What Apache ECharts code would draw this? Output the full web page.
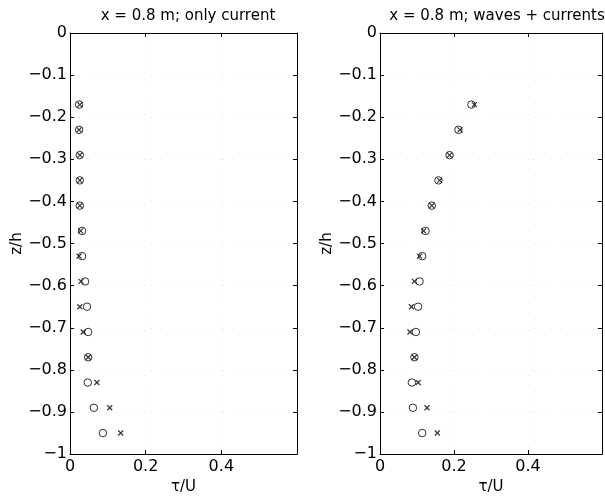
<!DOCTYPE html>
<html>
<head>
<meta charset="utf-8">
<script src="https://cdn.jsdelivr.net/npm/echarts@6/dist/echarts.min.js"></script>
<style>html,body{margin:0;padding:0;background:#fff}#c{width:605px;height:500px}</style>
</head>
<body>
<div id="c"></div>
<script>
var zLevels = [-0.17,-0.23,-0.29,-0.35,-0.41,-0.47,-0.53,-0.59,-0.65,-0.71,-0.77,-0.83,-0.89,-0.95];
var leftCircle = [0.024,0.024,0.026,0.026,0.026,0.032,0.032,0.040,0.045,0.048,0.048,0.047,0.063,0.087];
var leftCross  = [0.026,0.024,0.026,0.026,0.026,0.028,0.024,0.029,0.026,0.035,0.048,0.071,0.105,0.134];
var rightCircle = [0.247,0.212,0.188,0.158,0.140,0.123,0.114,0.107,0.103,0.097,0.093,0.086,0.089,0.114];
var rightCross  = [0.255,0.216,0.188,0.161,0.140,0.118,0.107,0.093,0.085,0.081,0.093,0.103,0.127,0.155];
var titles = ['x = 0.8 m; only current', 'x = 0.8 m; waves + currents'];
var xName = '\u03c4/U', yName = 'z/h';

var FONT = 'DejaVu Sans';
var FS = 16;
var TFS = 15;
function pairs(xs){ return xs.map(function(x,i){ return [x, zLevels[i]]; }); }
function yFmt(v){ if (Math.abs(v) < 1e-9) return '0'; if (Math.abs(v+1) < 1e-9) return '\u22121'; return '\u2212' + Math.abs(v).toFixed(1); }
function xFmt(v){ if (v > 0.55) return ''; if (v === 0) return '0'; return v.toFixed(1); }

var grids = [
  {left: 70, top: 33, width: 227, height: 422},
  {left: 380, top: 33, width: 228, height: 422}
];
var xAxes = [], yAxes = [], series = [];
grids.forEach(function(g, gi){
  var tickStyle = {show: true, inside: true, length: 4, lineStyle: {color: '#000'}};
  xAxes.push({gridIndex: gi, type: 'value', min: 0, max: 0.6, interval: 0.2, position: 'bottom',
    name: xName, nameLocation: 'middle', nameGap: 25,
    nameTextStyle: {fontFamily: FONT, fontSize: TFS, color: '#000'},
    axisLine: {show: true, onZero: false, lineStyle: {color: '#000'}}, axisTick: tickStyle,
    axisLabel: {formatter: xFmt, fontFamily: FONT, fontSize: FS, color: '#000', margin: 5},
    splitLine: {show: true, lineStyle: {color: '#e2e2e2', type: [1, 8], width: 1}}});
  xAxes.push({gridIndex: gi, type: 'value', min: 0, max: 0.6, interval: 0.2, position: 'top',
    axisLine: {show: true, onZero: false, lineStyle: {color: '#000'}}, axisTick: tickStyle,
    axisLabel: {show: false}, splitLine: {show: false}});
  yAxes.push({gridIndex: gi, type: 'value', min: -1, max: 0, interval: 0.1, position: 'left',
    name: yName, nameLocation: 'middle', nameGap: 44, nameRotate: 90,
    nameTextStyle: {fontFamily: FONT, fontSize: TFS, color: '#000'},
    axisLine: {show: true, onZero: false, lineStyle: {color: '#000'}}, axisTick: tickStyle,
    axisLabel: {formatter: yFmt, fontFamily: FONT, fontSize: FS, color: '#000', margin: 3},
    splitLine: {show: true, lineStyle: {color: '#e2e2e2', type: [1, 8], width: 1}}});
  yAxes.push({gridIndex: gi, type: 'value', min: -1, max: 0, interval: 0.1, position: 'right',
    axisLine: {show: true, onZero: false, lineStyle: {color: '#000'}}, axisTick: tickStyle,
    axisLabel: {show: false}, splitLine: {show: false}});
});

var circ = [leftCircle, rightCircle], crs = [leftCross, rightCross];
for (var gi = 0; gi < 2; gi++) {
  series.push({type: 'scatter', xAxisIndex: gi*2, yAxisIndex: gi*2, data: pairs(circ[gi]),
    symbol: 'circle', symbolSize: 7.5, silent: true,
    itemStyle: {color: 'rgba(0,0,0,0)', borderColor: '#000', borderWidth: 1}});
  series.push({type: 'scatter', xAxisIndex: gi*2, yAxisIndex: gi*2, data: pairs(crs[gi]),
    symbol: 'path://M0,0L10,10M10,0L0,10', symbolSize: 5, silent: true,
    itemStyle: {color: 'rgba(0,0,0,0)', borderColor: '#000', borderWidth: 1.2}});
}

var chart = echarts.init(document.getElementById('c'), null, {renderer: 'canvas'});
chart.setOption({
  backgroundColor: '#fff',
  animation: false,
  title: [
    {text: titles[0], left: 183, top: 4, textAlign: 'center', textStyle: {fontFamily: FONT, fontSize: TFS, fontWeight: 'normal', color: '#000'}},
    {text: titles[1], left: 492, top: 4, textAlign: 'center', textStyle: {fontFamily: FONT, fontSize: TFS, fontWeight: 'normal', color: '#000'}}
  ],
  grid: grids,
  xAxis: xAxes,
  yAxis: yAxes,
  series: series
});
</script>
</body>
</html>
